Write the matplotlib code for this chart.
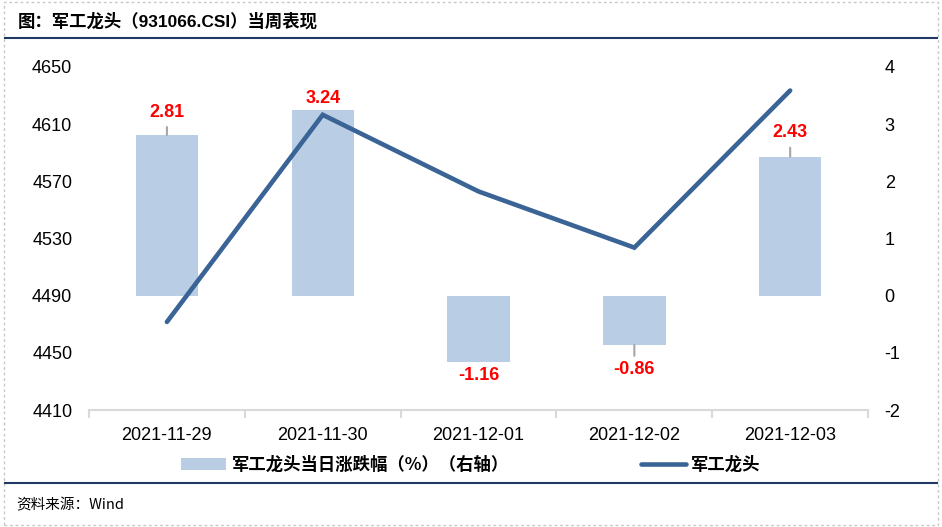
import numpy as np
import matplotlib
matplotlib.use('Agg')
import matplotlib.pyplot as plt
from matplotlib.patches import Rectangle, Patch
from matplotlib.lines import Line2D

plt.rcParams['font.family'] = ['Liberation Sans', 'Noto Sans CJK SC', 'DejaVu Sans']
plt.rcParams['axes.unicode_minus'] = False

# data
dates = ['2021-11-29', '2021-11-30', '2021-12-01', '2021-12-02', '2021-12-03']
pct_change = [2.81, 3.24, -1.16, -0.86, 2.43]
close = [4471.6, 4616.5, 4562.9, 4523.6, 4633.5]
left_ticks = [4410, 4450, 4490, 4530, 4570, 4610, 4650]
right_ticks = [-2, -1, 0, 1, 2, 3, 4]

# label placement (pixels): text offset, leader length
lab_off = [22, 12, -14, -25, 24]
lead_len = [8, 0, 0, -11, 9]

bar_color = '#b9cde5'
line_color = '#3a6396'
navy = '#1f3864'

fig = plt.figure(figsize=(9.42, 5.27), dpi=100)
ax2 = fig.add_axes([0.0945, 0.222, 0.827, 0.651])
ax = ax2.twinx()
ax.yaxis.tick_left()
ax2.yaxis.tick_right()

x = np.arange(len(dates))
ax2.bar(x, pct_change, width=0.4, color=bar_color, zorder=1)
ax.plot(x, close, color=line_color, lw=3.3, solid_capstyle='round', solid_joinstyle='miter', zorder=3)
ax.set_zorder(ax2.get_zorder() + 1)
ax.patch.set_visible(False)

for xi, v, off, ld in zip(x, pct_change, lab_off, lead_len):
    if ld != 0:
        ax2.annotate('', xy=(xi, v), xytext=(0, ld), textcoords='offset pixels',
                     arrowprops=dict(arrowstyle='-', color='#a6a6a6', lw=1.5, shrinkA=0, shrinkB=0))
    ax2.annotate('{:.2f}'.format(v), xy=(xi, v), xytext=(0, off), textcoords='offset pixels',
                 ha='center', va='center', color='#ff0000', fontsize=13, fontweight='bold')

ax.set_ylim(4410, 4650)
ax.set_yticks(left_ticks)
ax2.set_ylim(-2, 4)
ax2.set_yticks(right_ticks)
ax2.set_xlim(-0.5, len(dates) - 0.5)
ax2.set_xticks(x)
ax2.set_xticklabels(dates)
ax2.set_xticks(np.arange(len(dates) + 1) - 0.5, minor=True)
ax2.tick_params(axis='x', which='major', length=0, pad=12, labelsize=13)
ax2.tick_params(axis='x', which='minor', length=6, width=1.5, color='#d9d9d9')
ax2.tick_params(axis='y', length=0, pad=12, labelsize=13)
ax.tick_params(axis='y', length=0, pad=12, labelsize=13)

for a in (ax, ax2):
    for s in ['left', 'right', 'top']:
        a.spines[s].set_visible(False)
ax.spines['bottom'].set_visible(False)
ax2.spines['bottom'].set_color('#d9d9d9')
ax2.spines['bottom'].set_linewidth(1.5)

# legend
handles = [Patch(facecolor=bar_color, edgecolor='none'),
           Line2D([0], [0], color=line_color, lw=3.3, solid_capstyle='round')]
labels = ['军工龙头当日涨跌幅（%）（右轴）', '军工龙头']
fig.legend(handles, labels, loc='center', bbox_to_anchor=(0.5, 1 - 465 / 527), ncol=2,
           frameon=False, handlelength=2.6, handletextpad=0.3, columnspacing=7.6,
           prop={'family': ['Noto Sans CJK SC'], 'weight': 'bold', 'size': 12.5})

# title, rules, source
fig.text(18 / 942, 1 - 21 / 527, '图：军工龙头（931066.CSI）当周表现', ha='left', va='center',
         fontsize=12.5, fontweight='bold', family=['Liberation Sans', 'Noto Sans CJK SC'])
fig.add_artist(Line2D([5 / 942, 937 / 942], [1 - 38 / 527, 1 - 38 / 527], color=navy, lw=1.5))
fig.add_artist(Line2D([5 / 942, 937 / 942], [1 - 483 / 527, 1 - 483 / 527], color=navy, lw=1.5))
fig.text(16 / 942, 1 - 505 / 527, '资料来源：Wind', ha='left', va='center',
         fontsize=10.5, family=['Noto Sans CJK SC', 'DejaVu Sans'])
fig.add_artist(Rectangle((4 / 942, 2 / 527), 934 / 942, 523 / 527, transform=fig.transFigure,
                         fill=False, edgecolor='#c8c8c8', lw=1, ls=(0, (2, 2))))

fig.savefig('out.png', dpi=100)
